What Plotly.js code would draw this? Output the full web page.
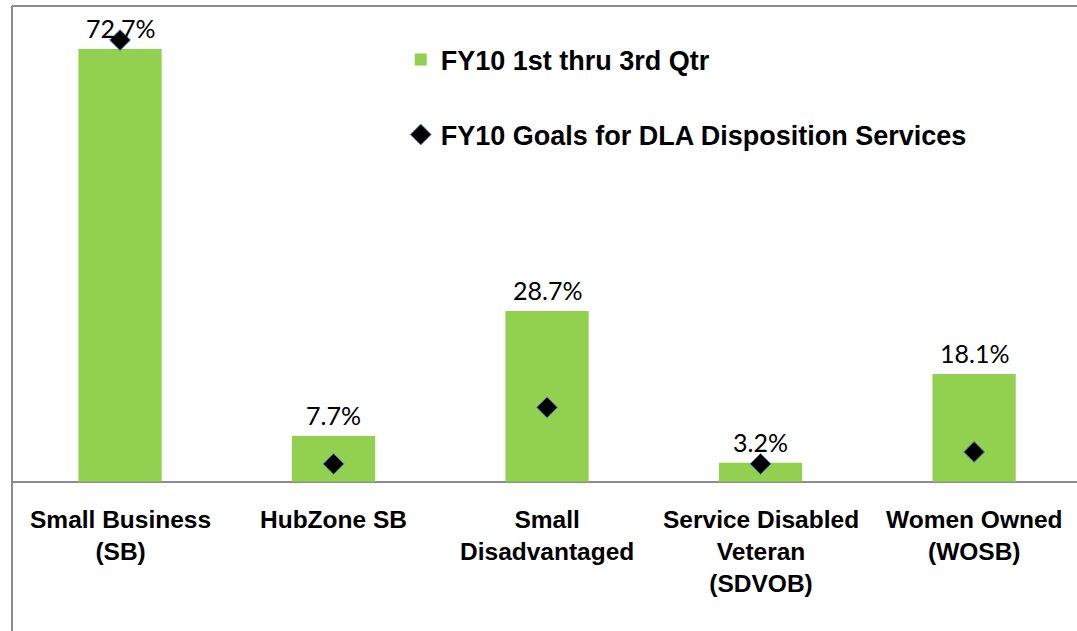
<!DOCTYPE html>
<html>
<head>
<meta charset="utf-8">
<script src="https://cdn.plot.ly/plotly-3.0.1.min.js"></script>
<style>html,body{margin:0;padding:0;background:#fff;}#chart{width:1077px;height:631px;}</style>
</head>
<body>
<div id="chart"></div>
<script>
const categories = ["Small Business<br>(SB)", "HubZone SB", "Small<br>Disadvantaged", "Service Disabled<br>Veteran<br>(SDVOB)", "Women Owned<br>(WOSB)"];
const actualValues = [72.7, 7.7, 28.7, 3.2, 18.1];
const goalValues = [74.2, 3.0, 12.5, 3.0, 5.0];
const seriesNames = ["FY10 1st thru 3rd Qtr", "FY10 Goals for DLA Disposition Services"];

const idx = categories.map((c, i) => i);

const bars = {
  type: 'bar', x: idx, y: actualValues, name: seriesNames[0], legendgroup: 'a',
  marker: {color: '#92D050'}, width: 0.39, hoverinfo: 'skip'
};
const goals = {
  type: 'scatter', mode: 'markers', x: idx, y: goalValues, name: seriesNames[1], legendgroup: 'b',
  marker: {symbol: 'diamond', size: 16, color: '#000000', line: {color: '#4F81BD', width: 1}}, hoverinfo: 'skip'
};

const annotations = [];
actualValues.forEach((v, i) => {
  annotations.push({x: i, y: v, xref: 'x', yref: 'y', text: v.toFixed(1) + '%', showarrow: false,
    yanchor: 'middle', yshift: 21, font: {family: 'Lato, Carlito, sans-serif', size: 25, color: '#000'}});
});
categories.forEach((c, i) => {
  annotations.push({x: i, y: 0, xref: 'x', yref: 'y', text: '<b>' + c + '</b>', showarrow: false,
    yanchor: 'top', yshift: -22, align: 'center',
    font: {family: 'Liberation Sans, Arial, sans-serif', size: 24.5, color: '#000'}});
});

const layout = {
  width: 1077, height: 631,
  margin: {l: 12, r: 0, t: 6, b: 0, pad: 0},
  paper_bgcolor: '#fff', plot_bgcolor: '#fff',
  showlegend: true,
  legend: {x: 0.365, y: 0.953, xanchor: 'left', yanchor: 'top', traceorder: 'grouped', tracegroupgap: 37,
    font: {family: 'Liberation Sans, Arial, sans-serif', size: 27, color: '#000', weight: 'bold'},
    bgcolor: 'rgba(0,0,0,0)'},
  xaxis: {range: [-0.506, 4.482], showticklabels: false, showgrid: false, zeroline: false, showline: false, ticks: '', fixedrange: true},
  yaxis: {range: [-25.08, 79.92], showticklabels: false, showgrid: false, zeroline: true, zerolinecolor: '#8C8C8C', zerolinewidth: 2, showline: false, ticks: '', fixedrange: true},
  shapes: [
    {type: 'line', xref: 'paper', yref: 'paper', x0: 0, x1: 0, y0: 0, y1: 1, line: {color: '#8C8C8C', width: 2}},
    {type: 'line', xref: 'paper', yref: 'paper', x0: 0, x1: 1, y0: 1, y1: 1, line: {color: '#8C8C8C', width: 2}}
  ],
  annotations: annotations
};

Plotly.newPlot('chart', [bars, goals], layout, {displayModeBar: false, staticPlot: true});
</script>
</body>
</html>
